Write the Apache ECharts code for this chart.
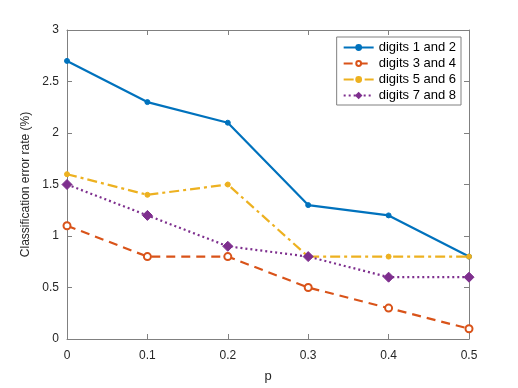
<!DOCTYPE html>
<html><head><meta charset="utf-8">
<script src="https://cdn.jsdelivr.net/npm/echarts@6/dist/echarts.min.js"></script>
<style>html,body{margin:0;padding:0;background:#fff}#c{width:518px;height:388px}</style>
</head><body><div id="c"></div>
<script>
const pValues = [0, 0.1, 0.2, 0.3, 0.4, 0.5];
const seriesNames = ['digits 1 and 2', 'digits 3 and 4', 'digits 5 and 6', 'digits 7 and 8'];
const digits12 = [2.7, 2.3, 2.1, 1.3, 1.2, 0.8];
const digits34 = [1.1, 0.8, 0.8, 0.5, 0.3, 0.1];
const digits56 = [1.6, 1.4, 1.5, 0.8, 0.8, 0.8];
const digits78 = [1.5, 1.2, 0.9, 0.8, 0.6, 0.6];
const yTicks = [0, 0.5, 1, 1.5, 2, 2.5, 3];

const FONT = 'Liberation Sans';
const AX = '#808080';
const TXT = '#262626';
const pair = arr => pValues.map((p, i) => [p, arr[i]]);

const styles = [
  {color: '#0072BD', type: 'solid', symbol: 'circle', size: 5, fill: '#0072BD'},
  {color: '#D95319', type: [9, 6], symbol: 'circle', size: 7, fill: '#fff'},
  {color: '#EDB120', type: [10, 4, 3, 4], symbol: 'circle', size: 5, fill: '#EDB120'},
  {color: '#7E2F8E', type: [2, 3], symbol: 'diamond', size: 10, fill: '#7E2F8E'}
];
const dataSets = [digits12, digits34, digits56, digits78];

const chart = echarts.init(document.getElementById('c'));
const tick = {show: true, inside: true, length: 5, lineStyle: {color: AX, width: 1}};
const baseX = {
  type: 'value', min: 0, max: 0.5, interval: 0.1,
  axisLine: {show: true, onZero: false, lineStyle: {color: AX, width: 1}},
  axisTick: tick,
  splitLine: {show: false}
};
const baseY = {
  type: 'value', min: 0, max: 3, interval: 0.5,
  axisLine: {show: true, onZero: false, lineStyle: {color: AX, width: 1}},
  axisTick: tick,
  splitLine: {show: false}
};
chart.setOption({
  animation: false,
  textStyle: {fontFamily: FONT},
  grid: {left: 67, right: 49, top: 30, bottom: 43, containLabel: false},
  legend: {
    data: seriesNames,
    orient: 'vertical',
    right: 57, top: 37,
    backgroundColor: '#fff',
    borderColor: AX, borderWidth: 1, borderRadius: 0,
    padding: [4, 5, 3, 6],
    itemGap: 3, itemWidth: 30, itemHeight: 6,
    textStyle: {fontFamily: FONT, fontSize: 13, color: '#000'}
  },
  xAxis: [
    Object.assign({}, baseX, {
      position: 'bottom', name: 'p', nameLocation: 'middle', nameGap: 31,
      nameTextStyle: {fontFamily: FONT, fontSize: 13, color: TXT},
      axisLabel: {show: true, color: TXT, fontSize: 12, fontFamily: FONT, margin: 11,
        formatter: v => String(Math.round(v * 10) / 10)}
    }),
    Object.assign({}, baseX, {position: 'top', axisLabel: {show: false}})
  ],
  yAxis: [
    Object.assign({}, baseY, {
      position: 'left', name: 'Classification error rate (%)', nameLocation: 'middle', nameGap: 28,
      nameTextStyle: {fontFamily: FONT, fontSize: 12, color: TXT},
      axisLabel: {show: true, color: TXT, fontSize: 12, fontFamily: FONT, margin: 8,
        formatter: v => yTicks.indexOf(v) >= 0 ? String(v) : ''}
    }),
    Object.assign({}, baseY, {position: 'right', axisLabel: {show: false}})
  ],
  series: dataSets.map((d, i) => ({
    name: seriesNames[i],
    type: 'line',
    data: pair(d),
    xAxisIndex: 0, yAxisIndex: 0,
    symbol: styles[i].symbol,
    symbolSize: styles[i].size,
    showAllSymbol: true,
    itemStyle: {color: styles[i].fill, borderColor: styles[i].color, borderWidth: i === 1 ? 2 : 1},
    lineStyle: {color: styles[i].color, width: 2.2, type: styles[i].type},
    emphasis: {disabled: true},
    z: 2 + i
  }))
});
</script></body></html>
